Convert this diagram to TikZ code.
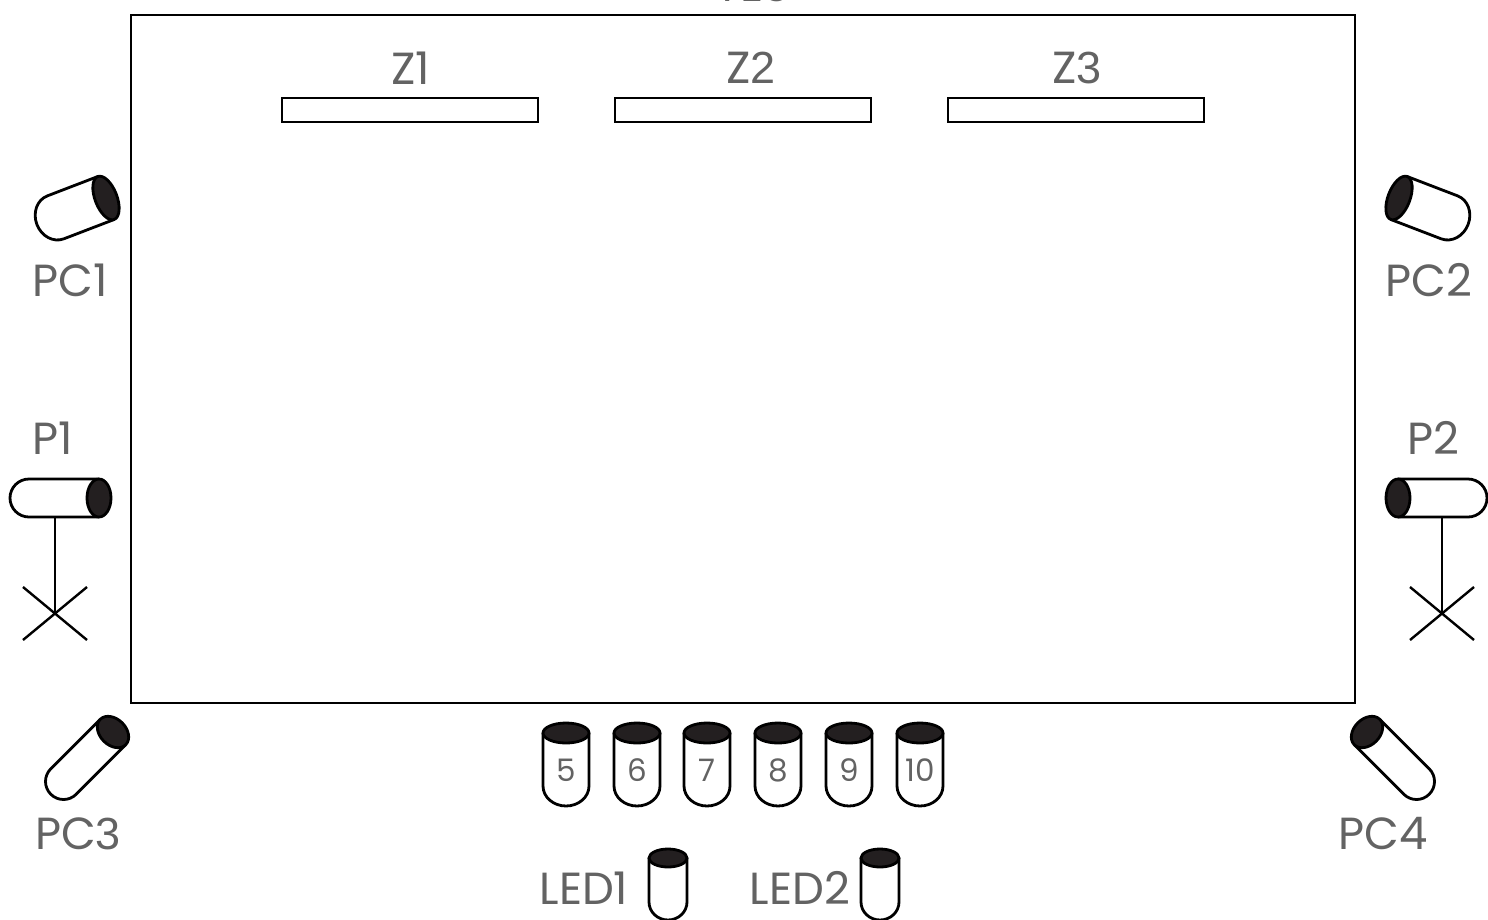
\documentclass[tikz,border=0pt]{standalone}
\usepackage{fontspec}
\setmainfont{Poppins}
\newfontfamily\roundfont{Liberation Sans}
\definecolor{lab}{HTML}{636363}
\definecolor{capc}{HTML}{231F20}
\newcommand{\pxfont}[1]{\fontsize{#1}{#1}\selectfont}
\newcommand{\rnd}[1]{{\roundfont #1}}
\tikzset{x=1pt,y=-1pt,
  ln/.style={draw=black,line width=2.8pt},
  thin ln/.style={draw=black,line width=2.4pt},
  lbl/.style={text=lab,inner sep=0pt,font=\pxfont{45}},
  num/.style={text=lab,inner sep=0pt,font=\pxfont{31}},
}
% x y angle L W capr endx
\newcommand{\lamp}[7]{%
 \begin{scope}[shift={(#1,#2)},rotate=#3]
  \draw[ln,fill=white,line join=round] (0,-#5) -- (-#4+#7,-#5) arc[start angle=270,end angle=90,x radius=#7,y radius=#5] -- (0,#5);
  \draw[ln,fill=capc] (0,0) ellipse[x radius=#6,y radius=#5];
 \end{scope}}
\begin{document}
\begin{tikzpicture}
\useasboundingbox (0,0) rectangle (1488,919);
\clip (0,0) rectangle (1488,919);
\draw[ln,fill=white] (131,15) rectangle (1355,703);
\node[lbl] (top) at (752,-14) {YES};
\foreach \n/\a/\b/\t/\s in {1/282/538/411/Z1,2/615/871/751/Z\rnd{2},3/948/1204/1077/Z\rnd{3}}{
  \draw[ln] (\a,98) rectangle (\b,122);
  \node[lbl] (z\n) at (\t,68) {\s};
}
% PC
\lamp{106}{198}{21}{74}{23}{11}{20}
\node[lbl] (pc1) at (70,280) {PC1};
\lamp{1399}{198}{159}{74}{23}{11}{20}
\node[lbl] (pc2) at (1429,280) {PC2};
\lamp{113}{732}{45}{88}{18}{13}{18}
\node[lbl] (pc3) at (78,834) {PC\rnd{3}};
\lamp{1367}{732}{135}{88}{18}{13}{18}
\node[lbl] (pc4) at (1383,834) {PC4};
% P
\lamp{99}{498}{0}{89}{19}{12}{19}
\node[lbl] (p1) at (53,438) {P1};
\lamp{1398}{498}{180}{89}{19}{12}{19}
\node[lbl] (p2) at (1433,438) {P2};
\draw[thin ln] (55,517) -- (55,613);
\draw[thin ln] (23,587) -- (87,640) (23,640) -- (87,587);
\draw[thin ln] (1442,517) -- (1442,613);
\draw[thin ln] (1410,587) -- (1474,640) (1410,640) -- (1474,587);
% numbered
\foreach \x/\t [count=\i] in {566/5,637/6,707/7,778/8,849/9,920/10}{
  \lamp{\x}{733}{90}{73}{23}{10}{20}
  \node[num] (n\i) at (\x,770) {\t};
}
% LED
\lamp{668}{858}{90}{62}{19}{9}{18}
\lamp{880}{858}{90}{62}{19}{9}{18}
\node[lbl] (led1) at (584,888) {LED1};
\node[lbl] (led2) at (800,888) {LED2};
\end{tikzpicture}
\end{document}
